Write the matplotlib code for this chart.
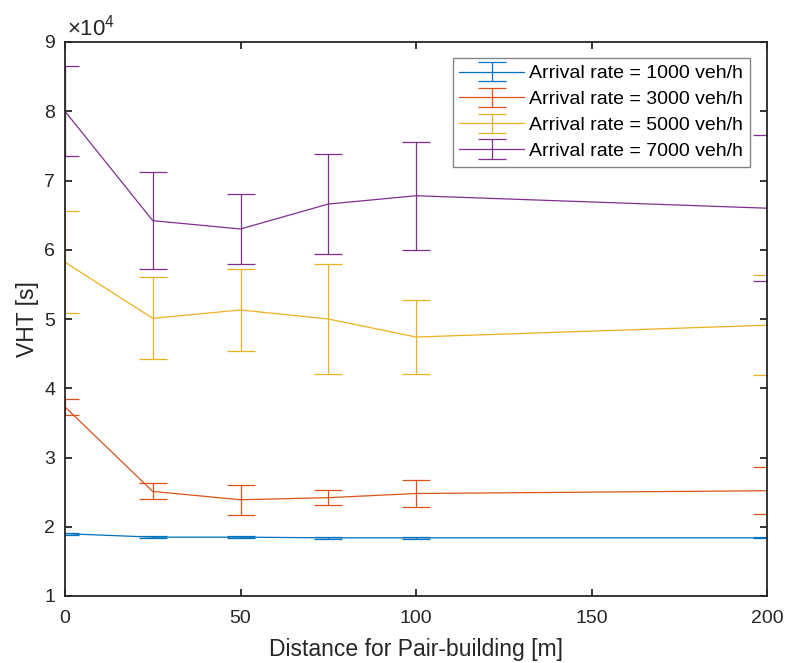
import matplotlib
matplotlib.use("Agg")
import matplotlib.pyplot as plt
from matplotlib.ticker import FixedLocator

plt.rcParams['font.family'] = ['Liberation Sans', 'DejaVu Sans']
plt.rcParams['mathtext.fontset'] = 'custom'
plt.rcParams['mathtext.rm'] = 'Liberation Sans'
plt.rcParams['mathtext.it'] = 'Liberation Sans'

distance = [0, 25, 50, 75, 100, 200]
series_labels = ["Arrival rate = 1000 veh/h", "Arrival rate = 3000 veh/h",
                 "Arrival rate = 5000 veh/h", "Arrival rate = 7000 veh/h"]
vht_1000 = [1.90e4, 1.85e4, 1.85e4, 1.84e4, 1.84e4, 1.84e4]
err_1000 = [0.012e4, 0.010e4, 0.010e4, 0.010e4, 0.010e4, 0.008e4]
vht_3000 = [3.73e4, 2.51e4, 2.39e4, 2.42e4, 2.48e4, 2.52e4]
err_3000 = [0.115e4, 0.115e4, 0.215e4, 0.105e4, 0.195e4, 0.34e4]
vht_5000 = [5.82e4, 5.01e4, 5.13e4, 5.00e4, 4.74e4, 4.91e4]
err_5000 = [0.735e4, 0.59e4, 0.595e4, 0.80e4, 0.535e4, 0.72e4]
vht_7000 = [8.00e4, 6.42e4, 6.30e4, 6.66e4, 6.78e4, 6.60e4]
err_7000 = [0.65e4, 0.705e4, 0.51e4, 0.72e4, 0.78e4, 1.05e4]

colors = ['#0072BD', '#D95319', '#EDB120', '#7E2F8E']
values = [vht_1000, vht_3000, vht_5000, vht_7000]
errors = [err_1000, err_3000, err_5000, err_7000]

fig = plt.figure(figsize=(7.85, 6.63), dpi=100)
ax = fig.add_axes([65/785, 1 - 596/663, (767-65)/785, (596-42)/663])

for v, e, c, lab in zip(values, errors, colors, series_labels):
    ax.errorbar(distance, [x / 1e4 for x in v], yerr=[x / 1e4 for x in e],
                color=c, lw=0.9, elinewidth=0.9, capsize=10, capthick=0.9,
                label=lab)

ax.set_xlim(0, 200)
ax.set_ylim(1, 9)
ax.xaxis.set_major_locator(FixedLocator([0, 50, 100, 150, 200]))
ax.yaxis.set_major_locator(FixedLocator(range(1, 10)))
axcol = '#262626'
for s in ax.spines.values():
    s.set_color(axcol)
    s.set_linewidth(1.3)
ax.tick_params(direction='in', top=True, right=True, length=5, width=1.3,
               colors=axcol, labelsize=14)
ax.tick_params(axis='x', pad=10)
ax.tick_params(axis='y', pad=7)
ax.set_xlabel("Distance for Pair-building [m]", fontsize=16.5, color=axcol,
              labelpad=8)
ax.set_ylabel("VHT [s]", fontsize=16.5, color=axcol, labelpad=4)
ax.text(0.003, 1.003, r"$\times10^4$", transform=ax.transAxes, fontsize=16,
        color=axcol, ha='left', va='bottom')

leg = ax.legend(loc='upper right', bbox_to_anchor=(0.976, 0.971), fontsize=14,
                frameon=True, fancybox=False, handlelength=3.3,
                borderpad=0.35, labelspacing=0.42, handletextpad=0.3,
                borderaxespad=0.0)
leg.get_frame().set_edgecolor('#666666')
leg.get_frame().set_linewidth(1.0)

fig.savefig("out.png", dpi=100)
